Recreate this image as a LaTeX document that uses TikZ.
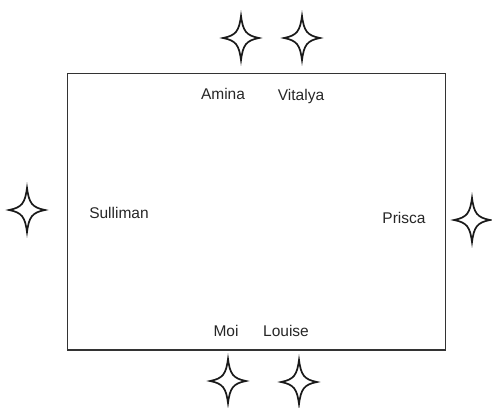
\documentclass[tikz,border=0pt]{standalone}
\usepackage{fontspec}
\setmainfont{Liberation Sans}
\begin{document}
\begin{tikzpicture}[x=1pt,y=-1pt,
  lbl/.style={inner sep=0pt,anchor=base,font=\fontsize{15.5}{19}\selectfont,text=black!85},
  frame/.style={draw=black!80,line width=1.3pt},
  fourstar/.pic={
    \draw[line width=1.7pt,line join=miter,black!90]
      (0,-22) .. controls (2,-7) and (5,-2.5) .. (18,0)
      .. controls (5,2.5) and (2,7) .. (0,22)
      .. controls (-2,7) and (-5,2.5) .. (-18,0)
      .. controls (-5,-2.5) and (-2,-7) .. cycle;
  }]
\useasboundingbox (0,0) rectangle (492,407);
\draw[frame] (67.5,73.5) rectangle (445.5,350);
% labels
\node[lbl] (amina) at (223,99) {Amina};
\node[lbl] (vitalya) at (301,100) {Vitalya};
\node[lbl] (sulliman) at (119,218) {Sulliman};
\node[lbl] (prisca) at (404,223) {Prisca};
\node[lbl] (moi) at (226,336) {Moi};
\node[lbl] (louise) at (286,336) {Louise};
% stars
\pic (s1) at (241,38) {fourstar};
\pic (s2) at (302,38) {fourstar};
\pic (s3) at (27,210) {fourstar};
\pic (s4) at (472,220) {fourstar};
\pic (s5) at (228,381) {fourstar};
\pic (s6) at (299,382) {fourstar};
\end{tikzpicture}
\end{document}
